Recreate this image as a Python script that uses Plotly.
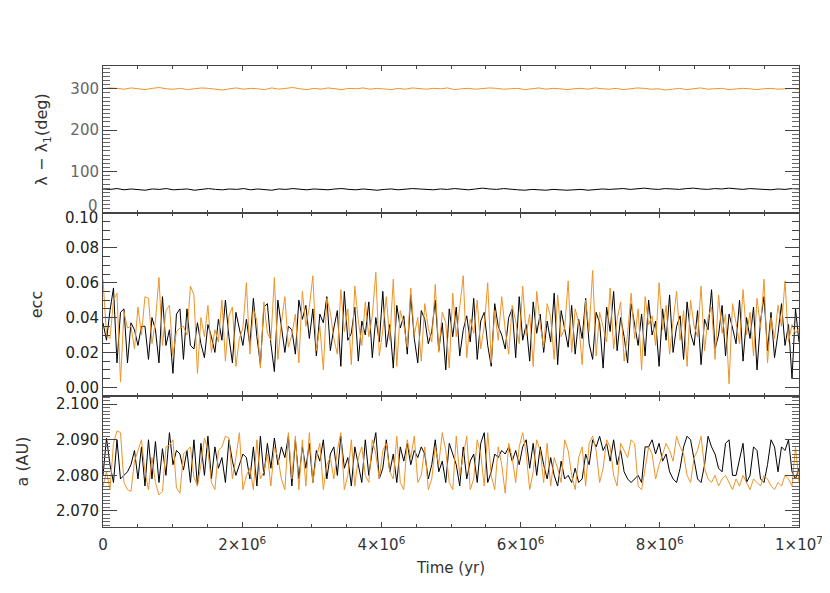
import numpy as np
import plotly.graph_objects as go
from plotly.subplots import make_subplots

# lambda - lambda_1 (deg), 100 samples over 1e7 yr
lam_orange = [300, 302, 301, 299, 302, 300, 298, 301, 303, 300, 299, 301, 298, 300, 302, 301, 299, 297, 300, 302,
              299, 301, 300, 298, 302, 299, 301, 303, 300, 298, 301, 299, 302, 300, 298, 301, 300, 302, 299, 301,
              300, 298, 301, 299, 302, 300, 299, 301, 300, 302, 298, 300, 301, 299, 300, 302, 301, 299, 300, 301,
              298, 300, 302, 299, 301, 300, 298, 300, 301, 299, 302, 300, 299, 301, 298, 300, 302, 301, 299, 300,
              297, 299, 301, 298, 300, 302, 299, 300, 301, 298, 299, 301, 300, 298, 300, 301, 299, 300, 301, 299]
lam_black = [58, 57, 59, 56, 58, 57, 55, 58, 57, 59, 56, 57, 58, 55, 57, 59, 57, 56, 58, 57,
             59, 56, 58, 57, 55, 58, 57, 59, 57, 56, 58, 57, 56, 58, 59, 57, 56, 58, 57, 55,
             57, 58, 56, 57, 59, 58, 57, 56, 58, 57, 59, 57, 56, 58, 60, 58, 57, 59, 57, 56,
             55, 57, 56, 55, 57, 56, 55, 56, 57, 55, 56, 58, 57, 58, 59, 57, 58, 60, 58, 57,
             59, 58, 57, 59, 60, 58, 57, 59, 58, 60, 58, 57, 59, 58, 57, 56, 58, 57, 59, 58]

# eccentricity, 200 samples
ecc_black = [0.037, 0.027, 0.044, 0.057, 0.014, 0.043, 0.045, 0.014, 0.037, 0.033, 0.024, 0.035, 0.035, 0.016, 0.040, 0.033, 0.014, 0.052, 0.024, 0.033,
             0.008, 0.042, 0.045, 0.016, 0.045, 0.024, 0.022, 0.037, 0.025, 0.017, 0.036, 0.029, 0.020, 0.039, 0.027, 0.050, 0.029, 0.014, 0.043, 0.033,
             0.024, 0.039, 0.024, 0.051, 0.029, 0.013, 0.046, 0.048, 0.025, 0.009, 0.050, 0.035, 0.020, 0.035, 0.033, 0.019, 0.050, 0.039, 0.047, 0.028,
             0.045, 0.018, 0.042, 0.037, 0.052, 0.021, 0.034, 0.044, 0.012, 0.055, 0.027, 0.031, 0.046, 0.015, 0.038, 0.030, 0.049, 0.017, 0.040, 0.026,
             0.055, 0.023, 0.036, 0.011, 0.047, 0.034, 0.041, 0.019, 0.053, 0.028, 0.014, 0.044, 0.039, 0.025, 0.032, 0.050, 0.021, 0.037, 0.010, 0.045,
             0.029, 0.046, 0.018, 0.033, 0.041, 0.026, 0.051, 0.016, 0.038, 0.043, 0.024, 0.012, 0.048, 0.035, 0.030, 0.022, 0.040, 0.045, 0.017, 0.052,
             0.027, 0.036, 0.015, 0.049, 0.031, 0.042, 0.020, 0.038, 0.026, 0.054, 0.013, 0.044, 0.034, 0.023, 0.047, 0.019, 0.039, 0.028, 0.051, 0.025,
             0.016, 0.043, 0.037, 0.011, 0.046, 0.032, 0.055, 0.021, 0.040, 0.029, 0.014, 0.048, 0.036, 0.024, 0.042, 0.018, 0.050, 0.030, 0.038, 0.012,
             0.045, 0.027, 0.053, 0.020, 0.035, 0.041, 0.016, 0.049, 0.031, 0.024, 0.044, 0.013, 0.039, 0.033, 0.056, 0.022, 0.030, 0.047, 0.018, 0.042,
             0.034, 0.025, 0.050, 0.015, 0.040, 0.028, 0.046, 0.010, 0.038, 0.052, 0.021, 0.043, 0.017, 0.031, 0.048, 0.024, 0.036, 0.005, 0.045, 0.026]
ecc_orange = [0.062, 0.030, 0.028, 0.050, 0.054, 0.003, 0.043, 0.034, 0.035, 0.022, 0.046, 0.030, 0.052, 0.051, 0.025, 0.038, 0.063, 0.024, 0.044, 0.047,
              0.018, 0.032, 0.034, 0.035, 0.030, 0.058, 0.053, 0.008, 0.040, 0.029, 0.047, 0.020, 0.033, 0.026, 0.050, 0.015, 0.041, 0.046, 0.012, 0.028,
              0.034, 0.060, 0.019, 0.045, 0.038, 0.011, 0.049, 0.031, 0.027, 0.063, 0.016, 0.037, 0.052, 0.023, 0.030, 0.042, 0.014, 0.055, 0.035, 0.046,
              0.064, 0.021, 0.035, 0.010, 0.051, 0.043, 0.028, 0.019, 0.056, 0.032, 0.045, 0.013, 0.058, 0.038, 0.024, 0.049, 0.029, 0.041, 0.066, 0.018,
              0.033, 0.052, 0.027, 0.062, 0.012, 0.044, 0.036, 0.023, 0.057, 0.030, 0.040, 0.015, 0.048, 0.034, 0.026, 0.059, 0.020, 0.043, 0.037, 0.011,
              0.054, 0.029, 0.046, 0.064, 0.017, 0.039, 0.031, 0.050, 0.022, 0.035, 0.060, 0.014, 0.044, 0.027, 0.052, 0.033, 0.019, 0.047, 0.038, 0.025,
              0.058, 0.030, 0.042, 0.012, 0.055, 0.036, 0.023, 0.048, 0.040, 0.016, 0.053, 0.029, 0.034, 0.061, 0.020, 0.045, 0.037, 0.013, 0.050, 0.032,
              0.067, 0.018, 0.043, 0.035, 0.026, 0.057, 0.022, 0.039, 0.049, 0.015, 0.031, 0.054, 0.028, 0.045, 0.010, 0.052, 0.036, 0.041, 0.024, 0.060,
              0.033, 0.047, 0.019, 0.038, 0.055, 0.027, 0.044, 0.012, 0.050, 0.035, 0.029, 0.058, 0.021, 0.040, 0.046, 0.016, 0.053, 0.031, 0.042, 0.002,
              0.048, 0.037, 0.025, 0.056, 0.030, 0.043, 0.018, 0.051, 0.034, 0.062, 0.014, 0.040, 0.028, 0.047, 0.035, 0.061, 0.026, 0.036, 0.031, 0.034]

# semi-major axis (AU), 200 samples
a_black = [2.0800, 2.0905, 2.0830, 2.0780, 2.0900, 2.0790, 2.0800, 2.0810, 2.0830, 2.0870, 2.0790, 2.0880, 2.0770, 2.0900, 2.0790, 2.0895, 2.0780, 2.0875, 2.0800, 2.0920,
           2.0830, 2.0870, 2.0860, 2.0815, 2.0870, 2.0780, 2.0900, 2.0770, 2.0890, 2.0800, 2.0910, 2.0790, 2.0880, 2.0820, 2.0850, 2.0780, 2.0900, 2.0840, 2.0800, 2.0830,
           2.0860, 2.0850, 2.0790, 2.0880, 2.0770, 2.0910, 2.0800, 2.0890, 2.0820, 2.0905, 2.0830, 2.0880, 2.0850, 2.0910, 2.0770, 2.0900, 2.0790, 2.0880, 2.0820, 2.0890,
           2.0780, 2.0870, 2.0840, 2.0900, 2.0790, 2.0860, 2.0880, 2.0800, 2.0910, 2.0820, 2.0850, 2.0770, 2.0880, 2.0830, 2.0780, 2.0900, 2.0800, 2.0870, 2.0920, 2.0790,
           2.0820, 2.0900, 2.0810, 2.0860, 2.0780, 2.0880, 2.0840, 2.0890, 2.0830, 2.0870, 2.0850, 2.0880, 2.0860, 2.0790, 2.0830, 2.0900, 2.0810, 2.0840, 2.0780, 2.0890,
           2.0860, 2.0830, 2.0770, 2.0880, 2.0790, 2.0840, 2.0860, 2.0780, 2.0890, 2.0920, 2.0780, 2.0810, 2.0860, 2.0850, 2.0870, 2.0860, 2.0880, 2.0840, 2.0870, 2.0830,
           2.0880, 2.0900, 2.0820, 2.0890, 2.0800, 2.0880, 2.0830, 2.0790, 2.0850, 2.0800, 2.0770, 2.0840, 2.0790, 2.0800, 2.0780, 2.0820, 2.0780, 2.0790, 2.0860, 2.0830,
           2.0900, 2.0880, 2.0910, 2.0870, 2.0890, 2.0840, 2.0900, 2.0830, 2.0870, 2.0810, 2.0790, 2.0780, 2.0790, 2.0800, 2.0780, 2.0880, 2.0880, 2.0900, 2.0860, 2.0890,
           2.0840, 2.0860, 2.0810, 2.0790, 2.0780, 2.0820, 2.0880, 2.0910, 2.0900, 2.0840, 2.0790, 2.0780, 2.0830, 2.0910, 2.0880, 2.0860, 2.0820, 2.0810, 2.0890, 2.0900,
           2.0800, 2.0800, 2.0850, 2.0890, 2.0780, 2.0800, 2.0880, 2.0870, 2.0790, 2.0780, 2.0830, 2.0900, 2.0880, 2.0810, 2.0880, 2.0870, 2.0900, 2.0810, 2.0790, 2.0820]
a_orange = [2.0770, 2.0810, 2.0760, 2.0890, 2.0925, 2.0920, 2.0780, 2.0760, 2.0755, 2.0840, 2.0870, 2.0900, 2.0810, 2.0760, 2.0850, 2.0780, 2.0745, 2.0755, 2.0880, 2.0885,
            2.0900, 2.0765, 2.0750, 2.0860, 2.0870, 2.0880, 2.0795, 2.0770, 2.0830, 2.0905, 2.0870, 2.0780, 2.0760, 2.0870, 2.0880, 2.0910, 2.0905, 2.0790, 2.0850, 2.0920,
            2.0760, 2.0800, 2.0820, 2.0760, 2.0900, 2.0790, 2.0810, 2.0860, 2.0770, 2.0880, 2.0850, 2.0790, 2.0760, 2.0920, 2.0790, 2.0910, 2.0760, 2.0900, 2.0770, 2.0920,
            2.0780, 2.0850, 2.0890, 2.0760, 2.0830, 2.0850, 2.0790, 2.0870, 2.0920, 2.0760, 2.0800, 2.0900, 2.0770, 2.0850, 2.0880, 2.0800, 2.0780, 2.0900, 2.0860, 2.0790,
            2.0870, 2.0890, 2.0810, 2.0790, 2.0910, 2.0780, 2.0760, 2.0900, 2.0850, 2.0910, 2.0780, 2.0800, 2.0880, 2.0760, 2.0790, 2.0880, 2.0830, 2.0920, 2.0870, 2.0780,
            2.0760, 2.0910, 2.0800, 2.0850, 2.0910, 2.0760, 2.0790, 2.0900, 2.0860, 2.0770, 2.0920, 2.0800, 2.0760, 2.0880, 2.0830, 2.0750, 2.0890, 2.0850, 2.0780, 2.0880,
            2.0920, 2.0860, 2.0760, 2.0810, 2.0900, 2.0870, 2.0780, 2.0890, 2.0770, 2.0850, 2.0820, 2.0780, 2.0900, 2.0870, 2.0800, 2.0760, 2.0850, 2.0880, 2.0770, 2.0890,
            2.0910, 2.0870, 2.0780, 2.0820, 2.0900, 2.0880, 2.0800, 2.0770, 2.0890, 2.0870, 2.0850, 2.0900, 2.0890, 2.0770, 2.0760, 2.0820, 2.0880, 2.0860, 2.0790, 2.0830,
            2.0860, 2.0890, 2.0870, 2.0840, 2.0910, 2.0880, 2.0860, 2.0800, 2.0780, 2.0850, 2.0870, 2.0910, 2.0820, 2.0790, 2.0780, 2.0800, 2.0770, 2.0790, 2.0800, 2.0780,
            2.0760, 2.0790, 2.0770, 2.0800, 2.0780, 2.0760, 2.0790, 2.0780, 2.0770, 2.0800, 2.0790, 2.0770, 2.0760, 2.0780, 2.0770, 2.0800, 2.0790, 2.0770, 2.0880, 2.0780]

x_ticks = [0, 2e6, 4e6, 6e6, 8e6, 1e7]
x_ticklabels = ["0", "2×10<sup>6</sup>", "4×10<sup>6</sup>", "6×10<sup>6</sup>", "8×10<sup>6</sup>", "1×10<sup>7</sup>"]
lam_ticks = [0, 100, 200, 300]
lam_ticklabels = ["", "100", "200", "300"]
ecc_ticks = [0, 0.02, 0.04, 0.06, 0.08, 0.1]
ecc_ticklabels = ["0.00", "0.02", "0.04", "0.06", "0.08", ""]
a_ticks = [2.07, 2.08, 2.09, 2.10]

t_lam = np.linspace(0, 1e7, len(lam_orange))
t_ecc = np.linspace(0, 1e7, len(ecc_black))
t_a = np.linspace(0, 1e7, len(a_black))

ORANGE = '#EE9428'
FONT = "DejaVu Sans"

fig = make_subplots(rows=3, cols=1, shared_xaxes=True, vertical_spacing=0)

for row, t, yb, yo in [(1, t_lam, lam_black, lam_orange),
                       (2, t_ecc, ecc_black, ecc_orange),
                       (3, t_a, a_black, a_orange)]:
    fig.add_trace(go.Scatter(x=t, y=yb, mode='lines', line=dict(color='black', width=1),
                             showlegend=False, hoverinfo='skip'), row=row, col=1)
    fig.add_trace(go.Scatter(x=t, y=yo, mode='lines', line=dict(color=ORANGE, width=1),
                             showlegend=False, hoverinfo='skip'), row=row, col=1)

axis_common = dict(showline=True, linecolor='#444', linewidth=1, mirror='allticks',
                   ticks='inside', tickcolor='#444', showgrid=False, zeroline=False,
                   automargin=False)

# x axes
for i in (1, 2, 3):
    fig.update_xaxes(axis_common, row=i, col=1, range=[0, 1e7], tickvals=x_ticks,
                     ticktext=x_ticklabels, ticklen=5,
                     minor=dict(ticks='inside', ticklen=3, dtick=5e5, tickcolor='#444'),
                     showticklabels=(i == 3), ticklabelstandoff=4,
                     tickfont=dict(family=FONT, size=15, color='#333'))
fig.update_xaxes(title=dict(text="Time (yr)", font=dict(family=FONT, size=15, color='#333'), standoff=9),
                 row=3, col=1)

# y axes
h_tot = 461.0
d3 = 131 / h_tot
d2 = (131 + 183) / h_tot
fig.update_yaxes(axis_common, row=1, col=1, range=[0, 355], tickvals=lam_ticks, ticktext=lam_ticklabels,
                 ticklen=14, minor=dict(ticks='inside', ticklen=7, dtick=10, tickcolor='#666'),
                 tickfont=dict(family=FONT, size=15, color='#666'), domain=[d2, 1],
                 title=dict(text="λ − λ<sub>1</sub>(deg)", font=dict(family=FONT, size=16, color='#333'), standoff=18))
fig.update_yaxes(axis_common, row=2, col=1, range=[-0.005, 0.1], tickvals=ecc_ticks, ticktext=ecc_ticklabels,
                 ticklen=14, minor=dict(ticks='inside', ticklen=7, dtick=0.005, tickcolor='#444'),
                 tickfont=dict(family=FONT, size=15, color='#222'), domain=[d3, d2],
                 title=dict(text="ecc", font=dict(family=FONT, size=16, color='#333'), standoff=18))
fig.update_yaxes(axis_common, row=3, col=1, range=[2.0655, 2.1023], tickvals=a_ticks,
                 tickformat='.3f', ticklen=14, minor=dict(ticks='inside', ticklen=7, dtick=0.001, tickcolor='#666'),
                 tickfont=dict(family=FONT, size=15, color='#222'), domain=[0, d3],
                 title=dict(text="a (AU)", font=dict(family=FONT, size=16, color='#333'), standoff=23))

# edge labels at the panel joins are nudged off their ticks, as in the original
fig.add_annotation(x=0, xref='paper', y=lam_ticks[0], yref='y', text="0", showarrow=False,
                   xanchor='right', yanchor='middle', xshift=-3, yshift=7,
                   font=dict(family=FONT, size=15, color='#666'))
fig.add_annotation(x=0, xref='paper', y=ecc_ticks[-1], yref='y2', text="0.10", showarrow=False,
                   xanchor='right', yanchor='middle', xshift=-3, yshift=-5,
                   font=dict(family=FONT, size=15, color='#222'))

# the page body adds an 8 px offset, so margins are set to land the plot box where the original has it
fig.update_layout(width=830, height=593, paper_bgcolor='white', plot_bgcolor='white',
                  margin=dict(l=95, r=39, t=58, b=74))

fig.write_html("out.html")
